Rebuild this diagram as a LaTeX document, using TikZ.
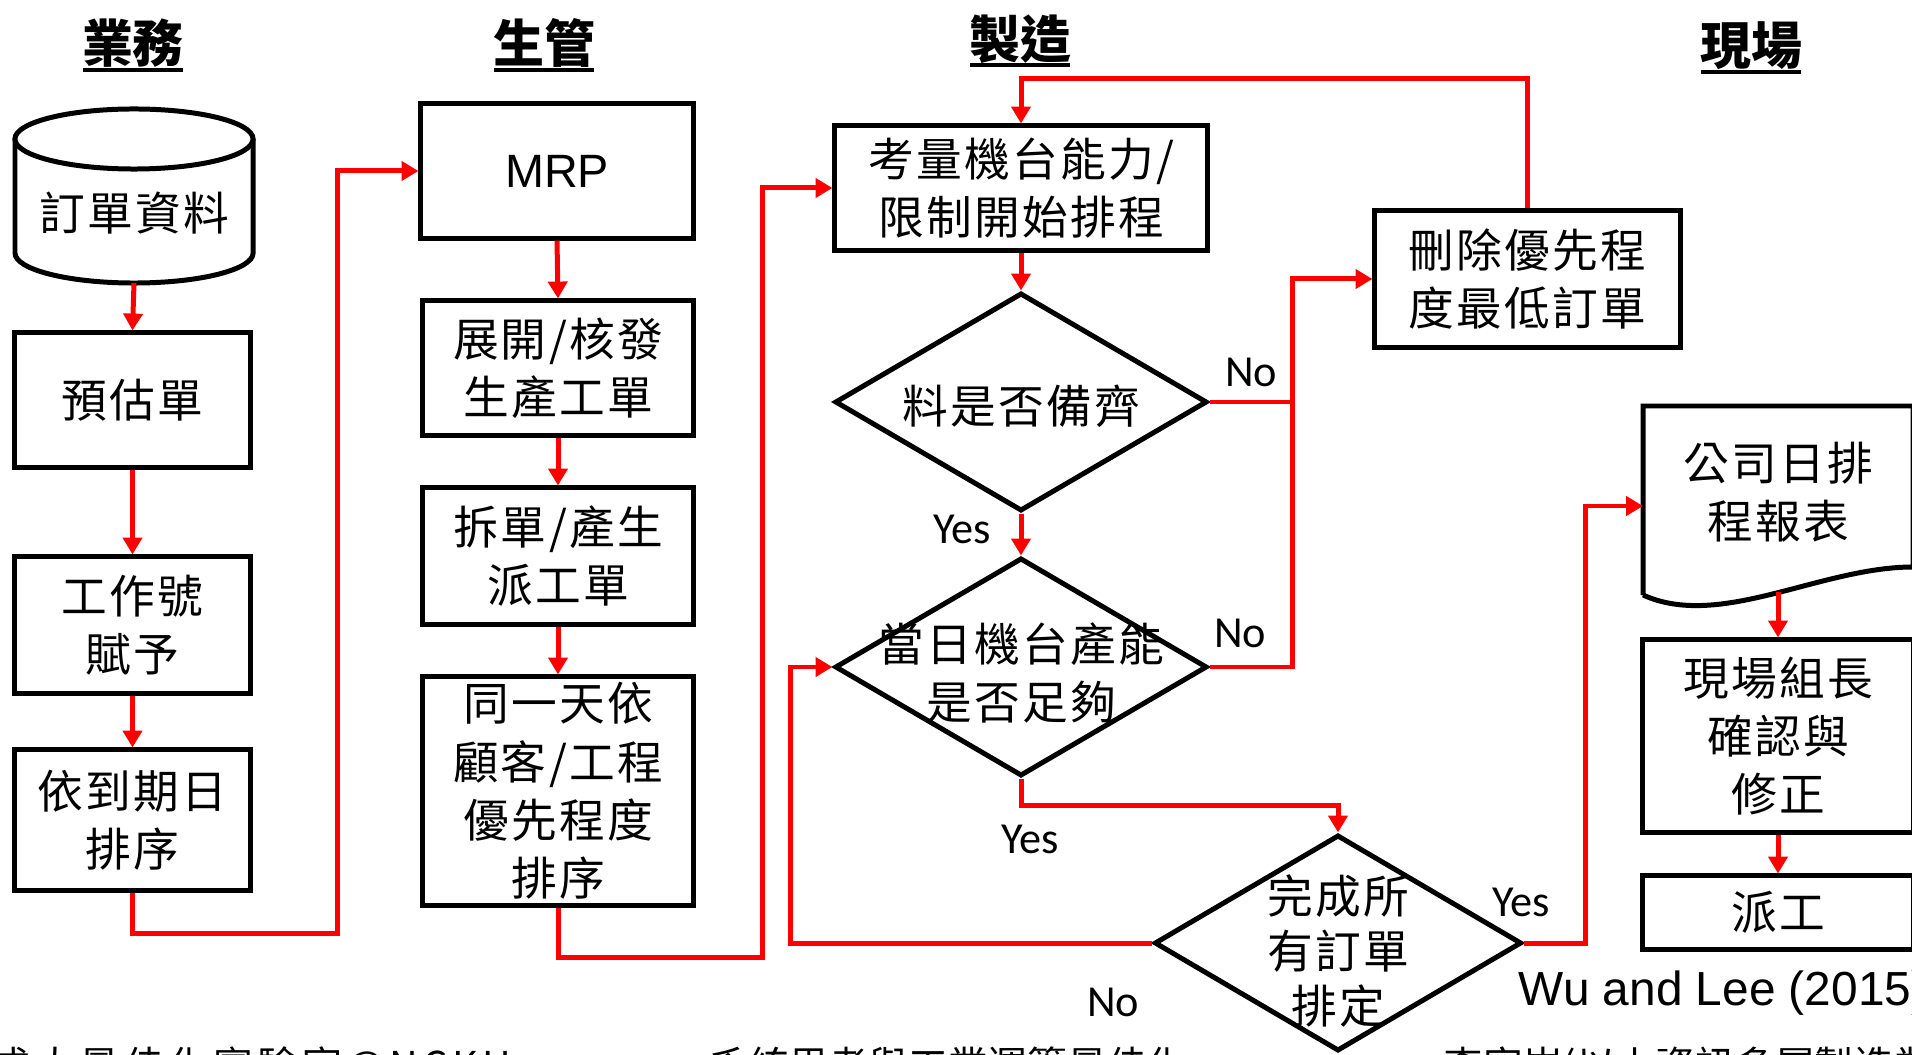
\documentclass[tikz,border=0pt]{standalone}
\usepackage{fontspec}
\setmainfont{Liberation Sans}
\newfontfamily\cjk{Noto Sans CJK TC}[LetterSpace=5]
\newfontfamily\cjkh{Noto Sans CJK TC}
\newfontfamily\cjkf{Noto Sans CJK TC}
\newfontfamily\cjkfw{Noto Sans CJK TC}[LetterSpace=12]
\newfontfamily\cali{Carlito}
\usetikzlibrary{shapes.geometric,arrows.meta}
\tikzset{
  box/.style={draw=black, line width=1.42pt, rectangle, align=center, inner sep=0pt,
    font=\cjk\fontsize{13}{16.6}\selectfont},
  dia/.style={draw=black, diamond, line width=1.42pt, inner sep=0pt},
  txt/.style={align=center, inner sep=0pt, font=\cjk\fontsize{13}{16.6}\selectfont},
  rline/.style={draw=red, line width=1.42pt},
  rarr/.style={rline, -{Triangle[length=4.8pt,width=5.4pt]}},
  yn/.style={inner sep=0pt, font=\cali\fontsize{12.6}{14}\selectfont},
  hdr/.style={inner sep=0pt, font=\cjkh\bfseries\fontsize{14.5}{16}\selectfont},
  uline/.style={draw=black, line width=0.9pt},
  foot/.style={anchor=base west, inner sep=0pt, font=\cjkf\fontsize{11.3}{13}\selectfont}
}
\begin{document}
\begin{tikzpicture}[x=0.01cm,y=-0.01cm]
\fill[white] (0,0) rectangle (1912,1055);
\useasboundingbox (0,0) rectangle (1912,1055);

% headers
\node[hdr] (h1) at (133,43) {業務};
\node[hdr] (h2) at (544,43) {生管};
\node[hdr] (h3) at (1020,39) {製造};
\node[hdr] (h4) at (1751,46) {現場};
\draw[uline] (83,70) -- (183,70);
\draw[uline] (494,70) -- (594,70);
\draw[uline] (970,65) -- (1070,65);
\draw[uline] (1701,72) -- (1801,72);

% cylinder
\draw[line width=1.42pt] (15,139) -- (15,253) arc[start angle=180, end angle=360, x radius=1.19cm, y radius=0.30cm] -- (253,139);
\draw[line width=1.42pt, fill=white] (134,139) ellipse [x radius=1.19cm, y radius=0.30cm];
\node[txt] (cyl) at (134,213) {訂單資料};
\coordinate (cylb) at (134,283);

% left column
\node[box, minimum width=2.35cm, minimum height=1.34cm] (yg) at (132.5,400) {預估單};
\node[box, minimum width=2.35cm, minimum height=1.36cm] (gz) at (132.5,625) {工作號\\賦予};
\node[box, minimum width=2.35cm, minimum height=1.40cm] (dq) at (132.5,820) {依到期日\\排序};

% second column
\node[box, font=\fontsize{13.3}{16}\selectfont, minimum width=2.72cm, minimum height=1.34cm] (mrp) at (557,171) {MRP};
\node[box, minimum width=2.70cm, minimum height=1.34cm] (zk) at (558,368) {展開/核發\\生產工單};
\node[box, minimum width=2.70cm, minimum height=1.36cm] (cd) at (558,556) {拆單/產生\\派工單};
\node[box, minimum width=2.70cm, minimum height=2.28cm] (ty) at (558,791) {同一天依\\顧客/工程\\優先程度\\排序};

% third column
\node[box, minimum width=3.72cm, minimum height=1.24cm] (kl) at (1021,188) {考量機台能力/\\限制開始排程};
\node[box, minimum width=3.05cm, minimum height=1.36cm] (sc) at (1527.5,279) {刪除優先程\\度最低訂單};
\node[dia, minimum width=3.72cm, minimum height=2.18cm] (d1) at (1021,402) {};
\node[txt] (t1) at (1021,406) {料是否備齊};
\node[dia, minimum width=3.72cm, minimum height=2.18cm] (d2) at (1021,667) {};
\node[txt] (t2) at (1021,673) {當日機台產能\\是否足夠};
\node[dia, minimum width=3.67cm, minimum height=2.16cm] (d3) at (1338,943) {};
\node[txt, font=\cjk\fontsize{13}{15.6}\selectfont] (t3) at (1338,951) {完成所\\有訂單\\排定};

% right column
\draw[line width=1.42pt] (1643,595) -- (1643,406) -- (1913,406) -- (1913,567)
  .. controls (1820,567) and (1720,630) .. (1643,595);
\node[txt] (doct) at (1778,492) {公司日排\\程報表};
\coordinate (docin) at (1643,506);
\coordinate (docout) at (1778,592);
\node[box, minimum width=2.70cm, minimum height=1.92cm] (xz) at (1778,736) {現場組長\\確認與\\修正};
\node[box, minimum width=2.70cm, minimum height=0.73cm] (pg) at (1778,912.5) {派工};

% connectors
\draw[rarr] (cylb) -- (yg.north);
\draw[rarr] (yg.south) -- (gz.north);
\draw[rarr] (gz.south) -- (dq.north);
\coordinate (c1) at (337,933);
\draw[rarr] (dq.south) |- (c1) |- (mrp.west);
\draw[rarr] (mrp.south) -- (zk.north);
\draw[rarr] (zk.south) -- (cd.north);
\draw[rarr] (cd.south) -- (ty.north);
\coordinate (c2) at (762,957);
\draw[rarr] (ty.south) |- (c2) |- (kl.west);
\draw[rarr] (kl.south) -- (d1.north);
\draw[rarr] (d1.south) -- (d2.north);
\coordinate (j) at (1292,279);
\draw[rline] (d1.east) -- (d1.east -| j);
\draw[rarr] (d2.east) -| (j) -- (sc.west);
\coordinate (ctop) at (1021,79);
\draw[rarr] (sc.north) |- (ctop) -- (kl.north);
\coordinate (c5) at (1021,805);
\draw[rarr] (d2.south) -- (c5) -| (d3.north);
\coordinate (c6) at (790,943);
\draw[rarr] (d3.west) -- (c6) |- (d2.west);
\coordinate (c7) at (1585,943);
\draw[rarr] (d3.east) -- (c7) |- (docin);
\draw[rarr] (docout) -- (xz.north);
\draw[rarr] (xz.south) -- (pg.north);

% labels
\node[yn] (y1) at (962,529) {Yes};
\node[yn] (n1) at (1251,372) {No};
\node[yn] (n2) at (1240,633) {No};
\node[yn] (y2) at (1030,839) {Yes};
\node[yn] (n3) at (1113,1002) {No};
\node[yn] (y3) at (1521,902) {Yes};
\node[anchor=base west, inner sep=0pt, font=\fontsize{13.6}{16}\selectfont] (ref) at (1518,1005) {Wu and Lee (2015)};

% footer (cut by page edge)
\node[foot, font=\cjkfw\fontsize{11.3}{13}\selectfont] (f1) at (-10,1080) {成大最佳化實驗室@NCKU};
\node[foot] (f2) at (709,1080) {系統思考與工業運籌最佳化};
\node[foot] (f3) at (1443,1080) {李家岩(以上資訊多屬製造業之實務)};
\end{tikzpicture}
\end{document}
